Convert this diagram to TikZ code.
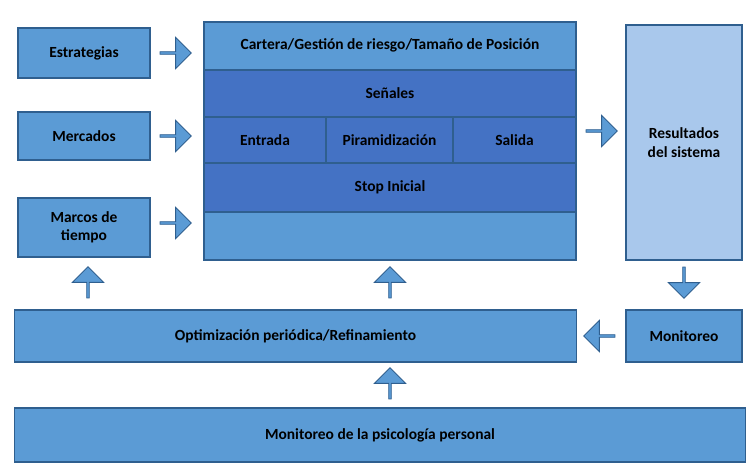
\documentclass[tikz,border=0pt]{standalone}
\usepackage{fontspec}
\setmainfont{Carlito}
\usetikzlibrary{shapes.arrows}
\definecolor{boxfill}{HTML}{5B9BD5}
\definecolor{boxline}{HTML}{2F5F8F}
\definecolor{rowfill}{HTML}{4472C4}
\definecolor{resfill}{HTML}{A9C8EC}
\tikzset{
  box/.style={draw=boxline, line width=0.8pt, fill=boxfill, align=center,
    font=\bfseries\fontsize{11}{13}\selectfont, inner sep=0pt},
  row/.style={box, fill=rowfill},
  blk/.style={single arrow, draw=boxline, fill=boxfill, line width=0.6pt,
    minimum height=0.78cm, minimum width=0.78cm, single arrow head extend=0.12cm, inner sep=0pt}
}
\begin{document}
\begin{tikzpicture}[x=0.025cm, y=-0.025cm]
        \useasboundingbox (0,0) rectangle (756,472);
        % left column
        \node[box, minimum width=3.3cm, minimum height=1.25cm] (estr) at (84,53) {Estrategias};
        \node[box, minimum width=3.3cm, minimum height=1.2cm] (merc) at (84,136) {Mercados};
        \node[box, minimum width=3.3cm, minimum height=1.475cm] (marc) at (84,227.5) {Marcos de\\tiempo};
        % central block
        \node[box, minimum width=9.3cm, minimum height=5.95cm] (cart) at (390,141) {};
        \node[anchor=north] at (cart.north) [yshift=-0.3cm, font=\bfseries\fontsize{11}{13}\selectfont] {Cartera/Gestión de riesgo/Tamaño de Posición};
        \node[row, minimum width=9.3cm, minimum height=1.175cm] (sen) at (390,93.5) {Señales};
        \node[row, minimum width=3.05cm, minimum height=1.15cm] (entr) at (265,140) {Entrada};
        \node[row, minimum width=3.175cm, minimum height=1.15cm] (pira) at (389.5,140) {Piramidización};
        \node[row, minimum width=3.075cm, minimum height=1.15cm] (sali) at (514.5,140) {Salida};
        \node[row, minimum width=9.3cm, minimum height=1.225cm] (stop) at (390,187.5) {Stop Inicial};
        % right column
        \node[box, fill=resfill, minimum width=2.9cm, minimum height=5.875cm] (res) at (684,142.5) {Resultados\\del sistema};
        \node[box, minimum width=2.9cm, minimum height=1.3cm] (moni) at (684,336) {Monitoreo};
        % bottom rows
        \node[box, minimum width=14.025cm, minimum height=1.3cm] (opti) at (295.5,336) {Optimización periódica/Refinamiento};
        \node[box, minimum width=18.25cm, minimum height=1.35cm] (psic) at (380,435) {Monitoreo de la psicología personal};
        % block arrows
        \node[blk] (a1) at (175,53) {};
        \node[blk] (a2) at (175,136) {};
        \node[blk] (a3) at (175,223) {};
        \node[blk] (a4) at (601,131) {};
        \node[blk, shape border rotate=270] (a5) at (684,282) {};
        \node[blk, shape border rotate=180] (a6) at (600,336) {};
        \node[blk, shape border rotate=90] (a7) at (88,283) {};
        \node[blk, shape border rotate=90] (a8) at (390,283) {};
        \node[blk, shape border rotate=90] (a9) at (390,384) {};
\end{tikzpicture}
\end{document}
